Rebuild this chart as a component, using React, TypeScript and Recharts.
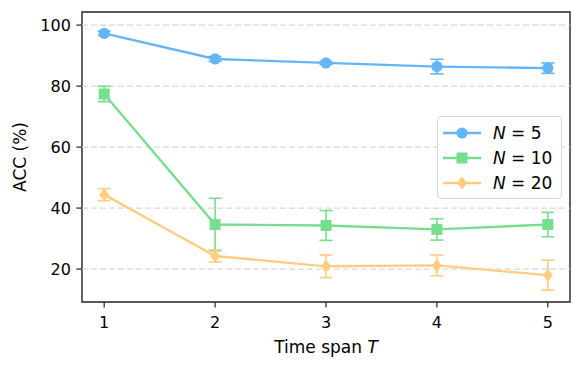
import React from "react"
import {
  LineChart,
  Line,
  XAxis,
  YAxis,
  ErrorBar,
  ReferenceLine,
  ReferenceArea,
} from "recharts"

const timeSpans = [1, 2, 3, 4, 5]
const accN5 = [97.3, 88.9, 87.6, 86.4, 85.9]
const errN5 = [0.7, 0.8, 0.5, 2.4, 1.7]
const accN10 = [77.4, 34.6, 34.3, 33.0, 34.6]
const errN10 = [2.5, 8.6, 4.9, 3.5, 4.0]
const accN20 = [44.4, 24.3, 20.9, 21.2, 18.0]
const errN20 = [2.0, 2.0, 3.7, 3.4, 4.9]
const xTicks = [1, 2, 3, 4, 5]
const yTicks = [20, 40, 60, 80, 100]
const xDomain = [0.8, 5.2]
const yDomain = [9.2, 104.3]

const BLUE = "#64b5f6"
const GREEN = "#77dd8f"
const ORANGE = "#ffcc80"
const FONT = "DejaVu Sans"

const data = timeSpans.map((t, i) => ({
  t,
  n5: accN5[i],
  e5: errN5[i],
  n10: accN10[i],
  e10: errN10[i],
  n20: accN20[i],
  e20: errN20[i],
}))

type Marker = "circle" | "square" | "diamond"

function markerShape(kind: Marker, cx: number, cy: number, color: string, key?: string) {
  if (kind === "circle") return <circle key={key} cx={cx} cy={cy} r={5.6} fill={color} />
  if (kind === "square")
    return <rect key={key} x={cx - 5.5} y={cy - 5.5} width={11} height={11} fill={color} />
  return (
    <polygon
      key={key}
      points={`${cx},${cy - 6.5} ${cx + 5},${cy} ${cx},${cy + 6.5} ${cx - 5},${cy}`}
      fill={color}
    />
  )
}

const makeDot = (kind: Marker, color: string) => (props: any) => {
  const { cx, cy, index } = props
  if (cx == null || cy == null) return <g key={`d-${index}`} />
  return markerShape(kind, cx, cy, color, `d-${kind}-${index}`)
}

const legendItems: { label: string; color: string; kind: Marker }[] = [
  { label: "5", color: BLUE, kind: "circle" },
  { label: "10", color: GREEN, kind: "square" },
  { label: "20", color: ORANGE, kind: "diamond" },
]

function LegendBox() {
  return (
    <div
      style={{
        position: "absolute",
        left: 437,
        top: 116,
        width: 125,
        border: "1px solid #d6d6d6",
        borderRadius: 4,
        background: "rgba(255,255,255,0.85)",
        padding: "3px 0 3px 4px",
        fontFamily: FONT,
        fontSize: 17,
        color: "#000",
        boxSizing: "border-box",
      }}
    >
      {legendItems.map((it) => (
        <div key={it.label} style={{ display: "flex", alignItems: "center", height: 25 }}>
          <svg width={40} height={20} style={{ marginRight: 11 }}>
            <line x1={1} y1={10} x2={39} y2={10} stroke={it.color} strokeWidth={2.4} />
            {markerShape(it.kind, 20, 10, it.color)}
          </svg>
          <span style={{ whiteSpace: "pre" }}>
            <i>N</i> = {it.label}
          </span>
        </div>
      ))}
    </div>
  )
}

function YLabel(props: any) {
  const vb = props.viewBox || { x: 0, y: 0, width: 0, height: 0 }
  const cx = vb.x + 20
  const cy = vb.y + vb.height / 2
  return (
    <text
      x={cx}
      y={cy}
      transform={`rotate(-90, ${cx}, ${cy})`}
      textAnchor="middle"
      dominantBaseline="central"
      fontFamily={FONT}
      fontSize={17}
      fill="#000"
    >
      ACC (%)
    </text>
  )
}

function XLabel(props: any) {
  const vb = props.viewBox || { x: 0, y: 0, width: 0, height: 0 }
  return (
    <text
      x={vb.x + vb.width / 2}
      y={vb.y + 51}
      textAnchor="middle"
      fontFamily={FONT}
      fontSize={17}
      fill="#000"
    >
      Time span <tspan fontStyle="italic">T</tspan>
    </text>
  )
}

export default function App() {
  const tickStyle = { fill: "#000", fontSize: 16, fontFamily: FONT }
  return (
    <div style={{ position: "absolute", left: 0, top: 0, width: 582, height: 371, background: "#fff" }}>
      <LineChart width={582} height={371} data={data} margin={{ top: 12, right: 12, left: 0, bottom: 0 }}>
        <XAxis
          dataKey="t"
          type="number"
          domain={xDomain}
          ticks={xTicks}
          allowDataOverflow
          height={69}
          tick={tickStyle}
          tickSize={5.6}
          tickMargin={9}
          axisLine={false}
          tickLine={{ stroke: "#222", strokeWidth: 1.2 }}
          label={<XLabel />}
        />
        <YAxis
          type="number"
          domain={yDomain}
          ticks={yTicks}
          allowDataOverflow
          width={82}
          tick={tickStyle}
          tickSize={5.6}
          tickMargin={5.5}
          axisLine={false}
          tickLine={{ stroke: "#222", strokeWidth: 1.2 }}
          label={<YLabel />}
        />
        {yTicks.map((v) => (
          <ReferenceLine key={v} y={v} stroke="#d9d9d9" strokeDasharray="6 3" strokeWidth={1.2} />
        ))}
        <ReferenceArea
          x1={xDomain[0]}
          x2={xDomain[1]}
          y1={yDomain[0]}
          y2={yDomain[1]}
          fill="none"
          fillOpacity={0}
          stroke="#222"
          strokeWidth={1.4}
          ifOverflow="extendDomain"
        />
        <Line
          dataKey="n5"
          stroke={BLUE}
          strokeWidth={2.4}
          dot={makeDot("circle", BLUE)}
          activeDot={false}
          isAnimationActive={false}
        >
          <ErrorBar dataKey="e5" direction="y" width={6.5} stroke={BLUE} strokeWidth={1.6} />
        </Line>
        <Line
          dataKey="n10"
          stroke={GREEN}
          strokeWidth={2.4}
          dot={makeDot("square", GREEN)}
          activeDot={false}
          isAnimationActive={false}
        >
          <ErrorBar dataKey="e10" direction="y" width={6.5} stroke={GREEN} strokeWidth={1.6} />
        </Line>
        <Line
          dataKey="n20"
          stroke={ORANGE}
          strokeWidth={2.4}
          dot={makeDot("diamond", ORANGE)}
          activeDot={false}
          isAnimationActive={false}
        >
          <ErrorBar dataKey="e20" direction="y" width={6.5} stroke={ORANGE} strokeWidth={1.6} />
        </Line>
      </LineChart>
      <LegendBox />
    </div>
  )
}
